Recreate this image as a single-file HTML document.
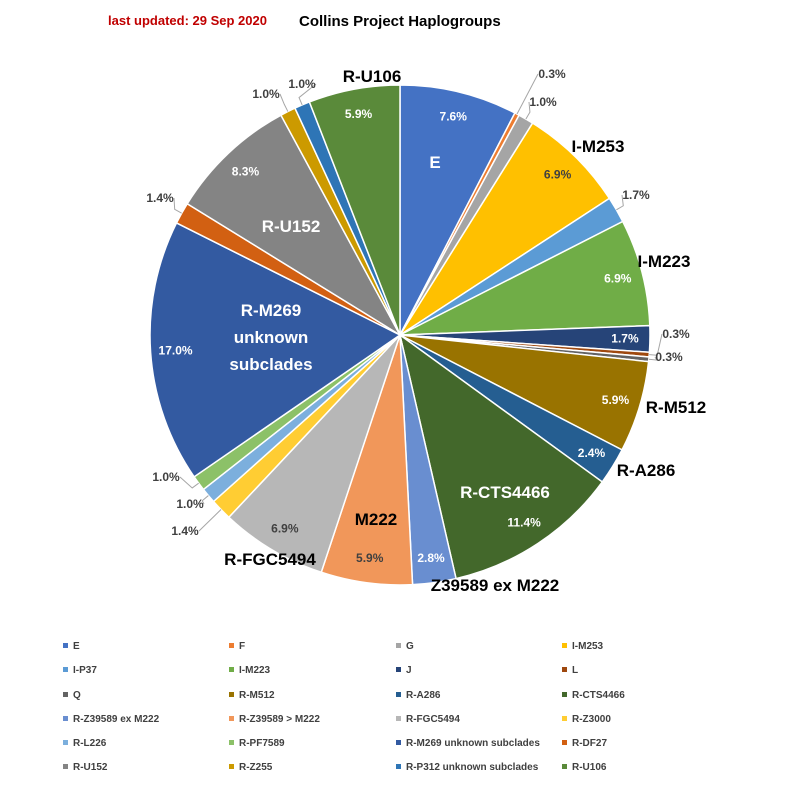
<!DOCTYPE html>
<html><head><meta charset="utf-8"><style>
body{margin:0;background:#fff;font-family:"Liberation Sans",sans-serif}
svg text{font-family:"Liberation Sans",sans-serif;font-weight:bold}
</style></head><body>
<svg id="c" width="800" height="789">
<rect width="800" height="789" fill="#fff"/>
<text x="108" y="25" font-size="13" fill="#c00000">last updated: 29 Sep 2020</text>
<text x="299" y="26" font-size="15" fill="#000">Collins Project Haplogroups</text>
<g id="pie"></g><g id="legend"></g>
</svg>
<script>
const categories=["E","F","G","I-M253","I-P37","I-M223","J","L","Q","R-M512","R-A286","R-CTS4466","R-Z39589 ex M222","R-Z39589 > M222","R-FGC5494","R-Z3000","R-L226","R-PF7589","R-M269 unknown subclades","R-DF27","R-U152","R-Z255","R-P312 unknown subclades","R-U106"];
const values=[7.6,0.3,1.0,6.9,1.7,6.9,1.7,0.3,0.3,5.9,2.4,11.4,2.8,5.9,6.9,1.4,1.0,1.0,17.0,1.4,8.3,1.0,1.0,5.9];
const colors=["#4472C4","#ED7D31","#A5A5A5","#FFC000","#5B9BD5","#70AD47","#264478","#9E480E","#636363","#997300","#255E91","#43682B","#698ED0","#F1975A","#B7B7B7","#FFCD33","#7CAFDD","#8CC168","#335AA1","#D26012","#848484","#CC9A00","#2E75B6","#5A8A3A"];
const whitePct={"E":1,"I-M223":1,"J":1,"R-M512":1,"R-A286":1,"R-CTS4466":1,"R-Z39589 ex M222":1,"R-M269 unknown subclades":1,"R-U152":1,"R-U106":1};
const outside={"F":[552,78],"G":[543,106],"I-P37":[636,199],"L":[676,338],"Q":[669,361],"R-Z3000":[185,535],"R-L226":[190,508],"R-PF7589":[166,481],"R-DF27":[160,202],"R-Z255":[266,98],"R-P312 unknown subclades":[302,88]};
const names=[["R-U106",372,76,"#000"],["E",435,162,"#fff"],["I-M253",598,146,"#000"],["I-M223",664,261,"#000"],["R-M512",676,407,"#000"],["R-A286",646,470,"#000"],["R-CTS4466",505,492,"#fff"],["Z39589 ex M222",495,585,"#000"],["M222",376,519,"#000"],["R-FGC5494",270,559,"#000"],["R-U152",291,226,"#fff"],["R-M269",271,310,"#fff"],["unknown",271,337,"#fff"],["subclades",271,364,"#fff"]];
const NS="http://www.w3.org/2000/svg";
const cx=400,cy=335,R=250;
const total=values.reduce((a,b)=>a+b,0);
const pie=document.getElementById('pie');
function mk(t,a,p){const e=document.createElementNS(NS,t);for(const k in a)e.setAttribute(k,a[k]);p.appendChild(e);return e;}
function pt(a,r){return [cx+r*Math.sin(a),cy-r*Math.cos(a)];}
let acc=0;
values.forEach((v,i)=>{
 const a0=acc/total*2*Math.PI;acc+=v;const a1=acc/total*2*Math.PI;
 const p0=pt(a0,R),p1=pt(a1,R);
 const s=mk('path',{d:`M${cx},${cy}L${p0[0]},${p0[1]}A${R},${R} 0 ${a1-a0>Math.PI?1:0} 1 ${p1[0]},${p1[1]}Z`,fill:colors[i],stroke:'#fff','stroke-width':1.5},pie);
 
 
 const am=(a0+a1)/2,c=categories[i];
 let x,y,fill='#404040';
 if(outside[c]){[x,y]=outside[c];const e=pt(am,R),m=pt(am,R+8);
   const l=mk('polyline',{points:`${e[0]},${e[1]} ${m[0]},${m[1]} ${x+(x<cx?14:-14)},${y-4}`,fill:'none',stroke:'#a6a6a6','stroke-width':1},pie);
   
   
 } else {[x,y]=pt(am,R*0.9);y+=4;if(whitePct[c])fill='#fff';}
 const t=mk('text',{x:x,y:y,'font-size':12,fill:fill,'text-anchor':'middle'},pie);t.textContent=v.toFixed(1)+'%';
 
 
});
names.forEach(n=>{const t=mk('text',{x:n[1],y:n[2]+6,'font-size':17,fill:n[3],'text-anchor':'middle'},pie);t.textContent=n[0];
 
 });
const lg=document.getElementById('legend');
const colX=[63,229,396,562],rowY=[648,672,697,721,745,769];
categories.forEach((c,i)=>{const x=colX[i%4],y=rowY[Math.floor(i/4)];
 const g=mk('g',{},lg);
 
 
 mk('rect',{x:x,y:y-5,width:5,height:5,fill:colors[i]},g);
 const t=mk('text',{x:x+10,y:y+1,'font-size':10,fill:'#404040'},g);t.textContent=c;});
</script>
</body></html>
